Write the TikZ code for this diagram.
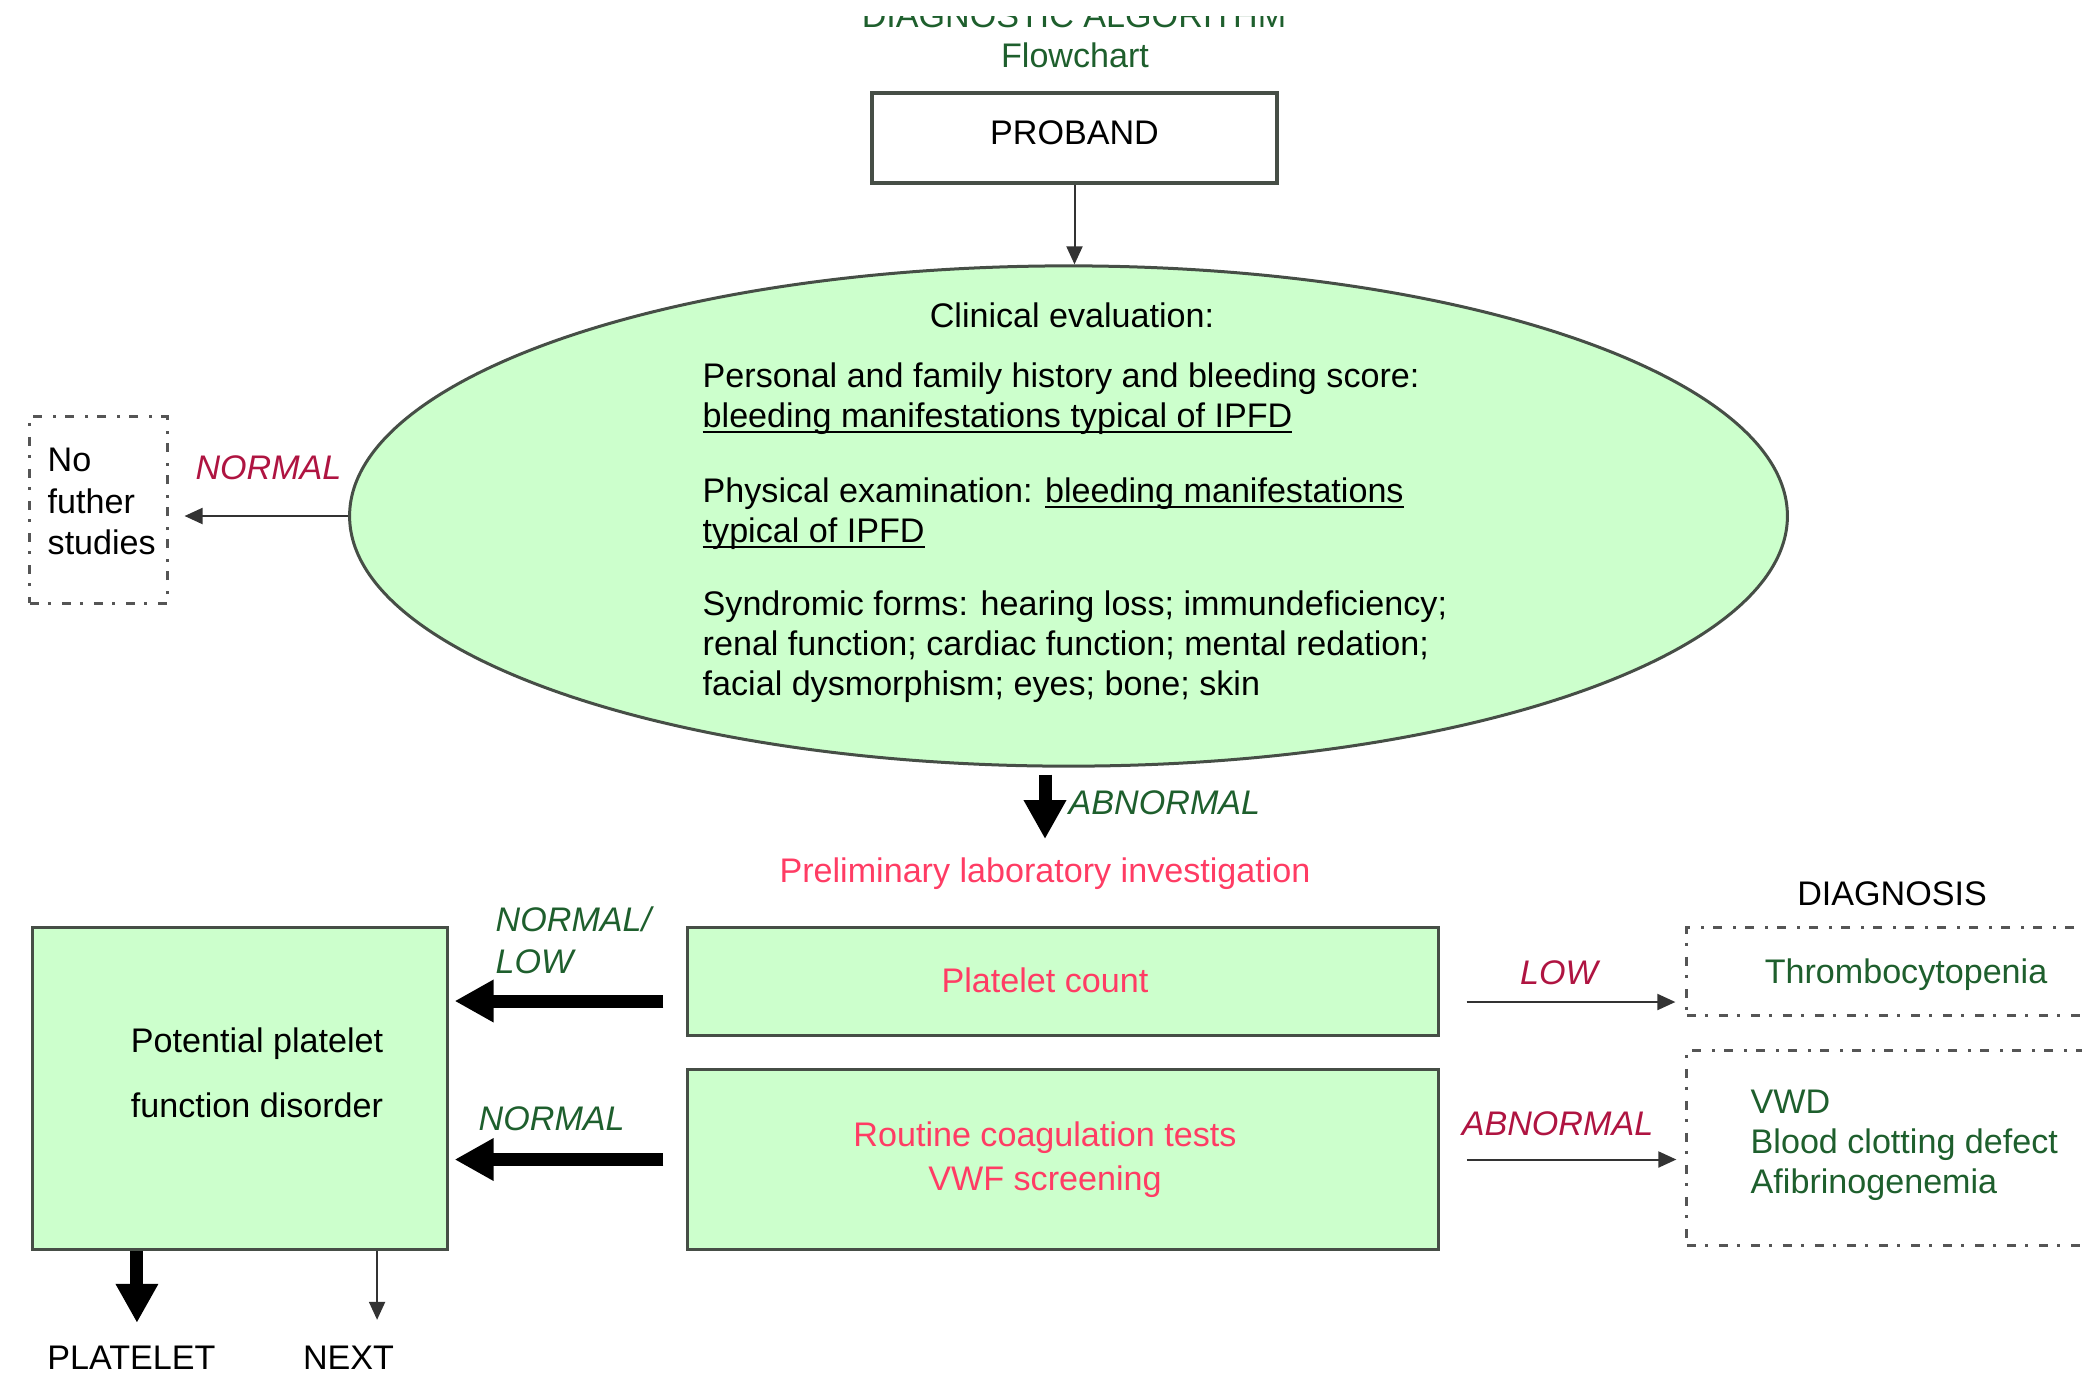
\documentclass[tikz,border=0pt]{standalone}
\usepackage{fontspec}
\setmainfont{Liberation Sans}
\usetikzlibrary{shapes.geometric,arrows.meta,positioning}
\definecolor{boxfill}{RGB}{204,255,204}
\definecolor{edgec}{RGB}{70,78,70}
\definecolor{dashc}{RGB}{85,85,85}
\definecolor{greentxt}{RGB}{30,95,45}
\definecolor{redtxt}{RGB}{175,20,65}
\definecolor{pinktxt}{RGB}{255,60,100}
\newcommand{\undl}[1]{\underline{\smash{#1}}}

\begin{document}
\begin{tikzpicture}[x=0.01cm,y=-0.01cm,
  every node/.style={font=\fontsize{9.7}{11.4}\selectfont, inner sep=0pt},
  lbl/.style={font=\fontsize{9.7}{11.4}\selectfont\itshape},
  greenbox/.style={draw=edgec, line width=0.03cm, fill=boxfill},
  plainbox/.style={draw=edgec, line width=0.035cm},
  dashbox/.style={draw=dashc, line width=0.03cm, dash pattern=on 0.09cm off 0.09cm on 0.03cm off 0.11cm},
  thinarrow/.style={draw=black!80, line width=0.02cm, -{Triangle[length=0.18cm,width=0.16cm]}},
  thickarrow/.style={line width=0.13cm, -{Triangle[length=0.39cm,width=0.40cm]}}]
\useasboundingbox (0,0) rectangle (2082,1375);
% title, cut off at the top
\begin{scope}
\clip (0,16) rectangle (2082,60);
\node[text=greentxt, anchor=base] (algtitle) at (1074,27) {DIAGNOSTIC ALGORITHM};
\end{scope}
\node[text=greentxt, anchor=base] (flowlbl) at (1075,67) {Flowchart};
% proband
\node[plainbox, minimum width=4.05cm, minimum height=0.9cm, text depth=0.1cm] (proband) at (1074.5,138) {PROBAND};
% clinical evaluation
\node[ellipse, greenbox, minimum width=14.37cm, minimum height=5cm] (clin) at (1068.5,516) {};
\node[anchor=base] (clinhead) at (1072,327) {Clinical evaluation:};
\foreach \yb/\txt [count=\i] in {387/{Personal and family history and bleeding score:},
  427/{\undl{bleeding manifestations typical of IPFD}},
  502/{Physical examination: \undl{bleeding manifestations}},
  542/{\undl{typical of IPFD}},
  615/{Syndromic forms: hearing loss; immundeficiency;},
  655/{renal function; cardiac function; mental redation;},
  695/{facial dysmorphism; eyes; bone; skin}}
  \node[anchor=base west] (clinline\i) at (702,\yb) {\txt};
\draw[thinarrow] (proband.south) -- (proband.south |- clin.north);
% normal -> no further studies
\node[dashbox, minimum width=1.37cm, minimum height=1.86cm] (nofurther) at (98.5,510) {};
\node[align=left, anchor=south west] (nofurtherlbl) at (47,556) {No\\[0.015cm]futher\\[0.015cm]studies};
\node[lbl, text=redtxt, anchor=base] (normallbl) at (268.5,479) {NORMAL};
\draw[thinarrow, shorten >=0.16cm] (clin.west) -- (clin.west -| nofurther.east);
% abnormal -> laboratory
\node[text=pinktxt, anchor=base] (prelim) at (1045,882) {Preliminary laboratory investigation};
\draw[thickarrow, shorten <=0.07cm, shorten >=0.175cm] (clin.south -| prelim.north) -- (prelim.north);
\node[lbl, text=greentxt, anchor=base west] (abnlbl) at (1068,814) {ABNORMAL};
% laboratory boxes
\node[greenbox, minimum width=7.5cm, minimum height=1.07cm] (plat) at (1063,981.5) {};
\node[text=pinktxt, anchor=base] (platlbl) at (1045,992) {Platelet count};
\node[greenbox, minimum width=7.5cm, minimum height=1.79cm] (routine) at (1063,1159.5) {};
\node[text=pinktxt, align=center, anchor=south] (routinelbl) at (1045,1198) {Routine coagulation tests\\[0.04cm]VWF screening};
% potential platelet function disorder
\node[greenbox, minimum width=4.14cm, minimum height=3.21cm] (ppfd) at (240,1088.5) {};
\node[align=center, anchor=south] (ppfdlbl) at (257,1119) {Potential platelet\\[0.25cm]function disorder};
\coordinate (platout) at ([shift={(-23,19.5)}]plat.west);
\draw[thickarrow, shorten >=0.06cm] (platout) -- (platout -| ppfd.east);
\coordinate (routout) at ([xshift=-0.23cm]routine.west);
\draw[thickarrow, shorten >=0.06cm] (routout) -- (routout -| ppfd.east);
\node[lbl, text=greentxt, align=left, anchor=south west] (nllbl) at (495,975) {NORMAL/\\[0.02cm]LOW};
\node[lbl, text=greentxt, anchor=base west] (normlbl) at (478,1130) {NORMAL};
% diagnosis
\node[anchor=base] (diaghead) at (1892,905) {DIAGNOSIS};
\node[dashbox, text=greentxt, minimum width=4.38cm, minimum height=0.87cm, text depth=0pt] (thrombo) at (1906,971.5) {Thrombocytopenia};
\node[dashbox, minimum width=4.38cm, minimum height=1.94cm] (diaglist) at (1906,1148) {};
\node[text=greentxt, align=left, anchor=south west] (diagtxt) at (1750,1201) {VWD\\Blood clotting defect\\Afibrinogenemia};
\coordinate (platright) at ([shift={(27,20.5)}]plat.east);
\draw[thinarrow, shorten >=0.1cm] (platright) -- (platright -| thrombo.west);
\coordinate (routright) at ([xshift=0.27cm]routine.east);
\draw[thinarrow, shorten >=0.09cm] (routright) -- (routright -| diaglist.west);
\node[lbl, text=redtxt, anchor=base] (lowlbl) at (1559,984) {LOW};
\node[lbl, text=redtxt, anchor=base] (abnlbl2) at (1557.5,1135) {ABNORMAL};
% next steps
\node[anchor=base] (platelet) at (131.5,1369) {PLATELET};
\node[anchor=base] (nextlbl) at (348.5,1369) {NEXT};
\coordinate (ppfdleg) at ([xshift=-1.03cm]ppfd.south);
\draw[thickarrow, shorten >=0.22cm] (ppfdleg) -- (ppfdleg |- platelet.north);
\coordinate (ppfdnext) at ([xshift=1.37cm]ppfd.south);
\draw[thinarrow, shorten >=0.25cm] (ppfdnext) -- (ppfdnext |- nextlbl.north);
\end{tikzpicture}
\end{document}
